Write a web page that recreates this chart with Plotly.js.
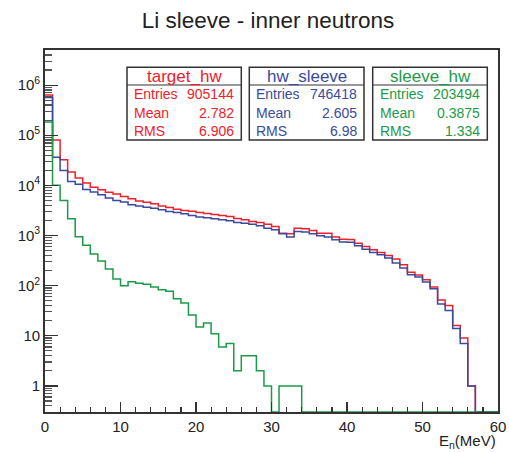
<!DOCTYPE html>
<html>
<head>
<meta charset="utf-8">
<script src="https://cdn.plot.ly/plotly-3.0.1.min.js"></script>
<style>html,body{margin:0;padding:0;background:#fff;}#plot{width:509px;height:452px;}</style>
</head>
<body>
<div id="plot"></div>
<script>
// ---- data (1 MeV bins, 0..60 MeV) ----
const binEdgesLow = [0,1,2,3,4,5,6,7,8,9,10,11,12,13,14,15,16,17,18,19,20,21,22,23,24,25,26,27,28,29,30,31,32,33,34,35,36,37,38,39,40,41,42,43,44,45,46,47,48,49,50,51,52,53,54,55,56,57,58,59];
const binWidth = 1;

const targetHw = [637000,80600,32500,18500,14000,11200,9200,8150,7300,6700,6000,5400,4900,4620,4280,3900,3620,3350,3150,3030,2875,2740,2625,2510,2400,2185,2055,1905,1820,1685,1510,1115,1085,1400,1360,1260,1115,1115,930,840,830,700,605,519,459,400,339,261,185,164,131,94,52,40,16,9,1,0,0,0];
const hwSleeve = [567000,36500,19700,12000,10500,8300,7400,6500,5600,5000,4650,4100,3900,3680,3500,3250,3010,2875,2705,2500,2330,2250,2150,2055,1960,1820,1760,1685,1560,1400,1300,1090,930,1205,1170,1080,990,930,820,740,735,624,535,459,413,355,282,224,165,148,118,87,43,32,14,7,1,0,0,0];
const sleeveHw = [183500,10000,5000,2150,950,640,430,310,215,135,100,119,112,107,94,83,77,55,45,26,15,18,11,6,7,2,4,4,2,1,0,1,1,1,0,0,0,0,0,0,0,0,0,0,0,0,0,0,0,0,0,0,0,0,0,0,0,0,0,0];

const seriesNames = ['target_hw','hw_sleeve','sleeve_hw'];
const seriesColors = ['#f0202a','#3a4a9e','#1c9a48'];
const statEntries = ['905144','746418','203494'];
const statMeans = ['2.782','2.605','0.3875'];
const statRMS = ['6.906','6.98','1.334'];

const xTickVals = [0,10,20,30,40,50,60];
const yTickVals = [1,10,100,1000,10000,100000,1000000];
const yTickText = ['1','10','10<sup>2</sup>','10<sup>3</sup>','10<sup>4</sup>','10<sup>5</sup>','10<sup>6</sup>'];

const title = 'Li sleeve - inner neutrons';
const xTitle = 'E<sub>n</sub>(MeV)';

// ---- build ----
const yLogRange = [-0.52, 6.70];
const yFloor = Math.pow(10, yLogRange[0]); // empty bins drawn on the frame bottom, as ROOT does

function stepTrace(counts, name, color) {
  const xs = binEdgesLow.concat([binEdgesLow[binEdgesLow.length-1] + binWidth]);
  const ys = counts.map(v => v > 0 ? v : yFloor);
  ys.push(ys[ys.length-1]);
  return {x: xs, y: ys, type: 'scatter', mode: 'lines', name: name,
          line: {shape: 'hv', color: color, width: 1.5}, hoverinfo: 'skip', cliponaxis: true};
}

const traces = [
  stepTrace(targetHw, seriesNames[0], seriesColors[0]),
  stepTrace(hwSleeve, seriesNames[1], seriesColors[1]),
  stepTrace(sleeveHw, seriesNames[2], seriesColors[2])
];

const minorY = [];
for (let d = -1; d <= 6; d++) for (let m = 2; m <= 9; m++) minorY.push(m * Math.pow(10, d));

// plot area in px: x 45..498, y 50..412
const PL = 45, PR = 498, PT = 50, PB = 412;
const fx = px => (px - PL) / (PR - PL);
const fy = py => (PB - py) / (PB - PT);

const FONT = 'Liberation Sans, Arial, Helvetica, sans-serif';
const shapes = [], annotations = [];
const boxLeft = [127, 249.3, 372.7], boxRight = [241.3, 364, 487.3];
const boxTop = 67.3, boxSep = 85, boxBottom = 140;
for (let i = 0; i < 3; i++) {
  shapes.push({type:'rect', xref:'paper', yref:'paper', x0: fx(boxLeft[i]), x1: fx(boxRight[i]), y0: fy(boxBottom), y1: fy(boxTop),
               line:{color:'#333', width:1.5}, fillcolor:'#fff', layer:'above'});
  shapes.push({type:'line', xref:'paper', yref:'paper', x0: fx(boxLeft[i]), x1: fx(boxRight[i]), y0: fy(boxSep), y1: fy(boxSep),
               line:{color:'#333', width:1.2}, layer:'above'});
  const c = seriesColors[i];
  annotations.push({xref:'paper', yref:'paper', x: fx((boxLeft[i]+boxRight[i])/2), y: fy(76.5), text: seriesNames[i], showarrow:false,
                    xanchor:'center', yanchor:'middle', font:{family:FONT, size:17, color:c}});
  const labels = ['Entries','Mean','RMS'], vals = [statEntries[i], statMeans[i], statRMS[i]], rowsY = [94.3, 112.7, 131];
  for (let r = 0; r < 3; r++) {
    annotations.push({xref:'paper', yref:'paper', x: fx(boxLeft[i]+5), y: fy(rowsY[r]), text: labels[r], showarrow:false,
                      xanchor:'left', yanchor:'middle', font:{family:FONT, size:14, color:c}});
    annotations.push({xref:'paper', yref:'paper', x: fx(boxRight[i]-5), y: fy(rowsY[r]), text: vals[r], showarrow:false,
                      xanchor:'right', yanchor:'middle', font:{family:FONT, size:14, color:c}});
  }
}
annotations.push({xref:'paper', yref:'paper', x: 1, y: fy(441), text: xTitle, showarrow:false, xanchor:'right', yanchor:'middle',
                  font:{family:FONT, size:15, color:'#222'}});

const layout = {
  width: 509, height: 452,
  margin: {l: PL, r: 509 - PR, t: PT, b: 452 - PB, pad: 0},
  paper_bgcolor: '#fff', plot_bgcolor: '#fff',
  showlegend: false,
  title: {text: title, x: 268/509, xref: 'container', xanchor: 'center', y: 1 - 20/452, yref: 'container', yanchor: 'middle',
          font: {family: FONT, size: 22.5, color: '#222'}},
  xaxis: {range: [0, 60], tickmode: 'array', tickvals: xTickVals, ticks: 'inside', ticklen: 10, tickwidth: 1.2, tickcolor: '#333',
          showgrid: false, zeroline: false, showline: true, linecolor: '#333', linewidth: 1.8, mirror: true,
          tickfont: {family: FONT, size: 15, color: '#222'},
          minor: {dtick: 2, tick0: 0, ticks: 'inside', ticklen: 5, tickwidth: 1.2, tickcolor: '#333', showgrid: false}},
  yaxis: {type: 'log', range: yLogRange, tickmode: 'array', tickvals: yTickVals, ticktext: yTickText,
          ticks: 'inside', ticklen: 13, tickwidth: 1.2, tickcolor: '#333',
          showgrid: false, zeroline: false, showline: true, linecolor: '#333', linewidth: 1.8, mirror: true,
          tickfont: {family: FONT, size: 15, color: '#222'},
          minor: {tickmode: 'array', tickvals: minorY, ticks: 'inside', ticklen: 7, tickwidth: 1.2, tickcolor: '#555', showgrid: false}},
  shapes: shapes,
  annotations: annotations
};

Plotly.newPlot('plot', traces, layout, {staticPlot: true, displayModeBar: false});
</script>
</body>
</html>
